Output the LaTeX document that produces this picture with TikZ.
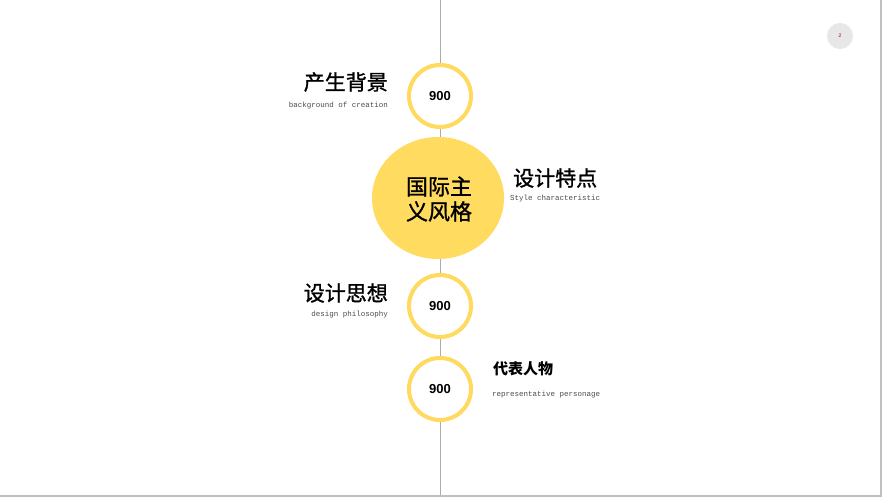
\documentclass[tikz,border=0pt]{standalone}
\usepackage{fontspec}
\usetikzlibrary{shapes.geometric}
\setmainfont{Liberation Sans}
\newfontfamily\cjk{Noto Sans CJK SC}
\newfontfamily\cjkm[FakeBold=1.2]{Noto Sans CJK SC}
\newfontfamily\monof{Liberation Mono}
\definecolor{gold}{HTML}{FFDB5F}
\definecolor{ringc}{HTML}{FFDA5E}
\definecolor{axisc}{HTML}{ABABAB}
\definecolor{edgec}{HTML}{C0C0C0}
\definecolor{pagec}{HTML}{E7E7E7}
\tikzset{
  ringnode/.style={circle, draw=ringc, line width=4pt, fill=white, minimum size=62pt, inner sep=0pt, font=\bfseries\fontsize{13}{13}\selectfont},
  bigtitle/.style={inner sep=0pt, font=\cjkm\fontsize{21}{21}\selectfont},
  smalltitle/.style={inner sep=0pt, font=\cjk\bfseries\fontsize{15}{15}\selectfont},
  subtext/.style={inner sep=0pt, text=black!70, font=\monof\fontsize{7.5}{7.5}\selectfont},
}
\begin{document}
\begin{tikzpicture}[x=1pt, y=-1pt]
\useasboundingbox (0,0) rectangle (882,497);
\fill[white] (0,0) rectangle (882,497);
% frame shadow
\fill[edgec] (0,494.5) rectangle (882,497);
\fill[edgec] (879.5,0) rectangle (882,497);
% axis
\coordinate (top) at (440,0);
\coordinate (bottom) at (440,494.5);
\draw[axisc, line width=1pt] (top) -- (bottom);
% page number
\node[circle, fill=pagec, minimum size=26pt, inner sep=0pt, text=red!60!black, font=\fontsize{5}{5}\selectfont] (page) at (840,36) {2};
% main ellipse
\node[ellipse, fill=gold, minimum width=132pt, minimum height=122pt, inner sep=0pt] (main) at (438,198) {};
\node[inner sep=0pt, align=center, font=\cjkm\fontsize{22}{25}\selectfont] (maintext) at (439,199) {国际主\\义风格};
% rings
\node[ringnode] (r1) at (440,96) {900};
\node[ringnode] (r3) at (440,306) {900};
\node[ringnode] (r4) at (440,389) {900};
% labels
\node[bigtitle, anchor=east] (t1) at (388,82) {产生背景};
\node[subtext, anchor=east] (s1) at (388,106) {background of creation};
\node[bigtitle, anchor=west] (t2) at (513,178) {设计特点};
\node[subtext, anchor=west] (s2) at (510,199) {Style characteristic};
\node[bigtitle, anchor=east] (t3) at (388,293) {设计思想};
\node[subtext, anchor=east] (s3) at (388,315) {design philosophy};
\node[smalltitle, anchor=west] (t4) at (493,369) {代表人物};
\node[subtext, anchor=west] (s4) at (492,395) {representative personage};
\end{tikzpicture}
\end{document}
